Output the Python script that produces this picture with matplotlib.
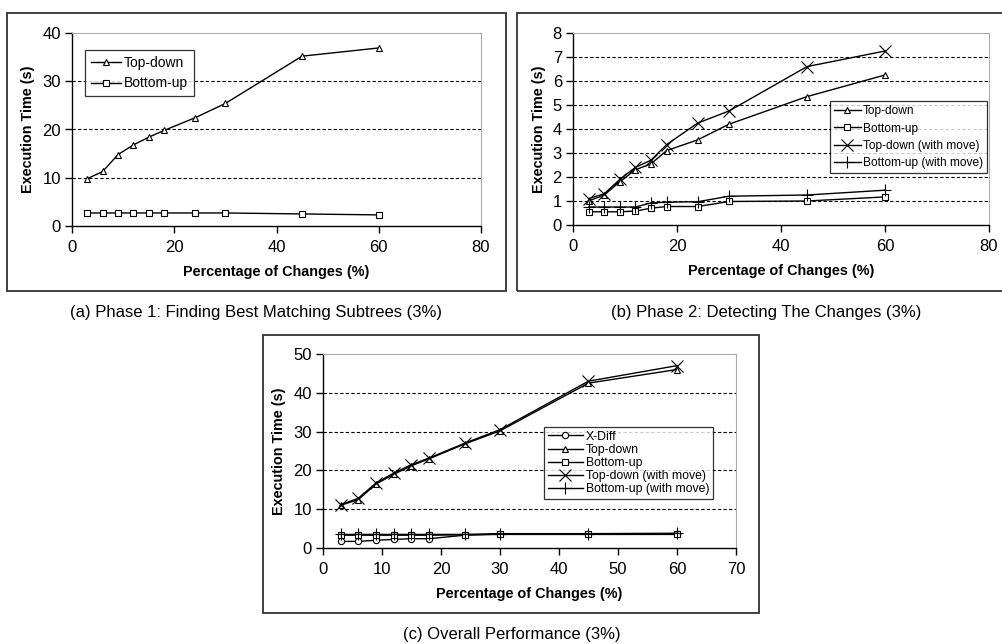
import numpy as np
import matplotlib.pyplot as plt
from matplotlib.patches import Rectangle

plt.rcParams['font.family'] = ['Liberation Sans', 'DejaVu Sans']

pct = [3, 6, 9, 12, 15, 18, 24, 30, 45, 60]

# (a) phase 1
a_top = [9.8, 11.3, 14.8, 16.8, 18.4, 19.8, 22.4, 25.4, 35.2, 36.9]
a_bot = [2.7, 2.7, 2.7, 2.7, 2.7, 2.7, 2.7, 2.7, 2.5, 2.3]

# (b) phase 2
b_top = [1.0, 1.25, 1.8, 2.3, 2.55, 3.1, 3.55, 4.2, 5.35, 6.25]
b_bot = [0.55, 0.55, 0.55, 0.58, 0.7, 0.77, 0.77, 0.98, 1.0, 1.17]
b_top_mv = [1.1, 1.3, 1.9, 2.4, 2.7, 3.35, 4.25, 4.75, 6.6, 7.25]
b_bot_mv = [0.75, 0.75, 0.75, 0.75, 0.92, 0.95, 0.97, 1.2, 1.25, 1.45]

# (c) overall
c_xdiff = [1.7, 1.7, 2.0, 2.2, 2.4, 2.4, 3.3, 3.6, 3.6, 3.6]
c_top = [11.0, 12.5, 16.5, 19.0, 21.2, 23.0, 26.8, 30.2, 42.5, 46.0]
c_bot = [3.3, 3.3, 3.3, 3.3, 3.3, 3.3, 3.4, 3.5, 3.5, 3.5]
c_top_mv = [11.2, 12.8, 16.8, 19.3, 21.5, 23.2, 27.0, 30.5, 43.0, 47.0]
c_bot_mv = [3.5, 3.5, 3.5, 3.5, 3.5, 3.5, 3.5, 3.7, 3.7, 3.8]

W, H = 1003, 644
fig = plt.figure(figsize=(W / 100, H / 100), dpi=100)

def px_axes(x0, y0, x1, y1):
    return fig.add_axes([x0 / W, 1 - y1 / H, (x1 - x0) / W, (y1 - y0) / H])

def frame(x0, y0, x1, y1):
    fig.patches.append(Rectangle((x0 / W, 1 - y1 / H), (x1 - x0) / W, (y1 - y0) / H,
                                 transform=fig.transFigure, fill=False,
                                 edgecolor='#333333', lw=1.3))

def style(ax, xmax, xstep, ymax, ystep):
    ax.set_xlim(0, xmax)
    ax.set_ylim(0, ymax)
    ax.set_xticks(np.arange(0, xmax + 1, xstep))
    ax.set_yticks(np.arange(0, ymax + 0.01, ystep))
    for y in np.arange(ystep, ymax, ystep):
        ax.axhline(y, color='black', lw=0.8, ls=(0, (3, 2)), zorder=0)
    for s in ['top', 'right']:
        ax.spines[s].set_color('#aaaaaa')
    for s in ['left', 'bottom']:
        ax.spines[s].set_linewidth(1.0)
    ax.tick_params(direction='out', length=5, labelsize=12, width=1.0)
    ax.tick_params(axis='x', pad=5)
    ax.tick_params(axis='y', pad=3)
    ax.set_xlabel('Percentage of Changes (%)', fontsize=10.4, fontweight='bold', labelpad=7)
    ax.set_ylabel('Execution Time (s)', fontsize=10.4, fontweight='bold', labelpad=5)

mk = dict(color='black', lw=1.0, mfc='white', mec='black', ms=5, mew=0.8)

def legend(ax, x, y, fs, spacing, pad, hl=2.2):
    leg = ax.legend(loc='upper left', bbox_to_anchor=(x, y), borderaxespad=0,
                    fontsize=fs, frameon=True, fancybox=False, edgecolor='black',
                    handlelength=hl, borderpad=pad, labelspacing=spacing,
                    handletextpad=0.2)
    leg.get_frame().set_linewidth(0.9)

# panel (a)
frame(7, 13, 506, 291)
ax = px_axes(72, 33, 481, 226)
style(ax, 80, 20, 40, 10)
ax.plot(pct, a_top, marker='^', label='Top-down', **mk)
ax.plot(pct, a_bot, marker='s', label='Bottom-up', **{**mk, 'ms': 4.5})
legend(ax, 0.032, 0.912, 10, 0.5, 0.4)
fig.text(256 / W, 1 - 313 / H, '(a) Phase 1: Finding Best Matching Subtrees (3%)',
         ha='center', va='center', fontsize=12)

# panel (b)
frame(517, 13, 1010, 291)
ax = px_axes(573, 33, 989, 225)
style(ax, 80, 20, 8, 1)
ax.plot(pct, b_top, marker='^', label='Top-down', **mk)
ax.plot(pct, b_bot, marker='s', label='Bottom-up', **{**mk, 'ms': 4.5})
ax.plot(pct, b_top_mv, marker='x', label='Top-down (with move)', **{**mk, 'ms': 8})
ax.plot(pct, b_bot_mv, marker='+', label='Bottom-up (with move)', **{**mk, 'ms': 9})
legend(ax, 0.618, 0.646, 8.6, 0.45, 0.35)
fig.text(766 / W, 1 - 313 / H, '(b) Phase 2: Detecting The Changes (3%)',
         ha='center', va='center', fontsize=12)

# panel (c)
frame(263, 335, 759, 613)
ax = px_axes(323, 354, 736, 548)
style(ax, 70, 10, 50, 10)
ax.plot(pct, c_xdiff, marker='o', label='X-Diff', **{**mk, 'ms': 4.5})
ax.plot(pct, c_top, marker='^', label='Top-down', **mk)
ax.plot(pct, c_bot, marker='s', label='Bottom-up', **{**mk, 'ms': 4.5})
ax.plot(pct, c_top_mv, marker='x', label='Top-down (with move)', **{**mk, 'ms': 8})
ax.plot(pct, c_bot_mv, marker='+', label='Bottom-up (with move)', **{**mk, 'ms': 9})
legend(ax, 0.535, 0.624, 8.8, 0.1, 0.3, hl=2.9)
fig.text(512 / W, 1 - 634 / H, '(c) Overall Performance (3%)',
         ha='center', va='center', fontsize=12)

fig.savefig('out.png', dpi=100)
